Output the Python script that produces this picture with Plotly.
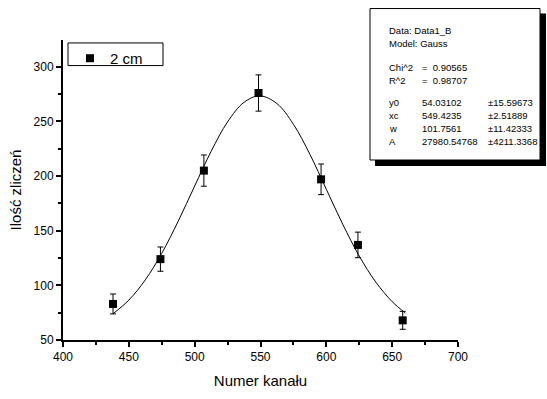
import plotly.graph_objects as go

# ---- data ----
channel = [438, 474, 507, 548.5, 596, 624, 658]
counts = [83, 124, 205, 276, 197, 137, 68]
count_err = [9.1, 11.1, 14.3, 16.6, 14.0, 11.7, 8.2]

fit_x = [438, 450, 462.5, 475, 487.5, 500, 512.5, 525, 537.5, 549.4,
         562.5, 575, 587.5, 600, 612.5, 625, 637.5, 650, 660]
fit_y = [74.0, 86.5, 105.0, 129.3, 158.7, 190.9, 222.6, 249.6, 267.5, 273.4,
         266.3, 247.4, 219.9, 187.9, 155.8, 126.8, 103.1, 85.1, 74.7]

series_name = "2 cm"
x_title = "Numer kanału"
y_title = "Ilość zliczeń"

box_labels = ["Data: Data1_B", "Model: Gauss", "", "Chi^2", "R^2", "", "y0", "xc", "w", "A"]
box_values = ["", "", "", "=  0.90565", "=  0.98707", "", "54.03102", "549.4235", "101.7561", "27980.54768"]
box_errors = ["", "", "", "", "", "", "±15.59673", "±2.51889", "±11.42333", "±4211.3368"]

FONT = "Arial, Liberation Sans, sans-serif"
W, H = 547, 399
L, R, T, B = 63, 458, 40, 345  # plot area in px


def px(x):
    return (x - L) / (R - L)


def py(y):
    return (B - y) / (B - T)


fig = go.Figure()
fig.add_trace(go.Scatter(
    x=fit_x, y=fit_y, mode="lines", line=dict(color="black", width=1, shape="spline"),
    showlegend=False, hoverinfo="skip"))
fig.add_trace(go.Scatter(
    x=channel, y=counts, mode="markers", name=series_name,
    marker=dict(symbol="square", size=8, color="black"),
    error_y=dict(type="data", array=count_err, visible=True, color="black",
                 thickness=1, width=3)))

shapes = [
    # legend frame
    dict(type="rect", xref="paper", yref="paper", x0=px(68), x1=px(163), y0=py(66), y1=py(43),
         fillcolor="white", line=dict(color="black", width=1), layer="below"),
    # fit-report box with shadow
    dict(type="rect", xref="paper", yref="paper", x0=px(375), x1=px(546), y0=py(168), y1=py(13),
         fillcolor="black", line=dict(width=0), layer="above"),
    dict(type="rect", xref="paper", yref="paper", x0=px(370), x1=px(540), y0=py(162), y1=py(8),
         fillcolor="white", line=dict(color="black", width=1), layer="above"),
]

annotations = []
line_y = [30, 44, 56, 68, 81, 92, 104, 117, 130, 143]
for col_x, col in [(387, box_labels), (420, box_values), (486, box_errors)]:
    for yy, txt in zip(line_y, col):
        if not txt:
            continue
        annotations.append(dict(
            text=txt, xref="paper", yref="paper", x=px(col_x), y=py(yy),
            xanchor="left", yanchor="middle", showarrow=False,
            font=dict(family=FONT, size=9.5, color="black")))

fig.update_layout(
    width=W, height=H,
    margin=dict(l=L, r=W - R, t=T, b=H - B, pad=0),
    paper_bgcolor="white", plot_bgcolor="white",
    font=dict(family=FONT, size=12, color="black"),
    xaxis=dict(range=[400, 700], tick0=400, dtick=50, showgrid=False, zeroline=False,
               showline=True, linecolor="black", linewidth=2,
               ticks="outside", ticklen=5, tickwidth=1.5, tickcolor="black",
               tickfont=dict(size=12),
               minor=dict(ticks="outside", ticklen=3, tickwidth=1.5, dtick=25, tickcolor="black"),
               title=dict(text=x_title, font=dict(size=15), standoff=12)),
    yaxis=dict(range=[50, 324.5], tick0=50, dtick=50, showgrid=False, zeroline=False,
               showline=True, linecolor="black", linewidth=2,
               ticks="outside", ticklen=5, tickwidth=1.5, tickcolor="black",
               tickfont=dict(size=12),
               minor=dict(ticks="outside", ticklen=3, tickwidth=1.5, dtick=25, tickcolor="black"),
               title=dict(text=y_title, font=dict(size=15), standoff=8)),
    legend=dict(x=px(70), y=py(42), xanchor="left", yanchor="top",
                borderwidth=0, bgcolor="rgba(0,0,0,0)",
                font=dict(size=15)),
    shapes=shapes, annotations=annotations,
)

fig.write_html("out.html", config={"displayModeBar": False},
               post_script="document.body.style.margin='0';")
